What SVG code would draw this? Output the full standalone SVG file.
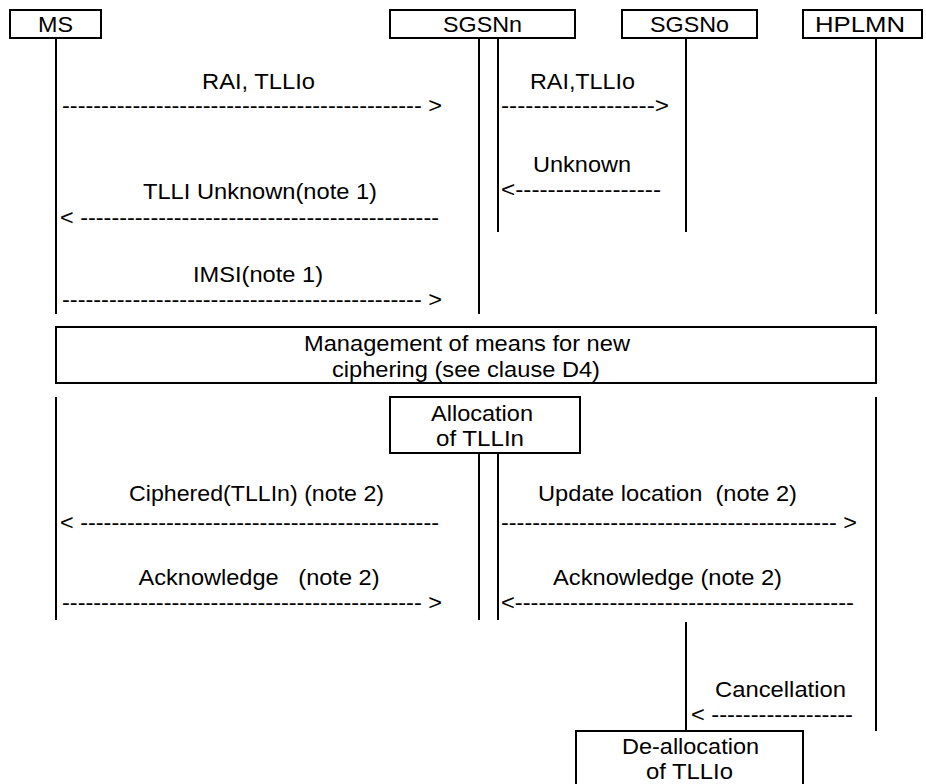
<svg xmlns="http://www.w3.org/2000/svg" width="926" height="784" viewBox="0 0 926 784">
<style>
.t{font-family:"Liberation Sans",Arial,Helvetica,sans-serif;font-size:22px;fill:#000;white-space:pre}
.box{fill:#fff;stroke:#000;stroke-width:2}
.life{stroke:#000;stroke-width:2;fill:none}
</style>
<rect width="926" height="784" fill="#fff"/>
<g id="lifelines">
<path class="life" d="M56,38V314M56,397V620"/>
<path class="life" d="M479,38V314M498,38V232M479,453V620M498,453V620"/>
<path class="life" d="M686,38V232M686,622V731"/>
<path class="life" d="M876,38V314M876,397V731"/>
</g>
<g id="MS"><rect class="box" x="10" y="10" width="91" height="28"/><text class="t" x="38" y="32" textLength="35" lengthAdjust="spacingAndGlyphs">MS</text></g>
<g id="SGSNn"><rect class="box" x="390" y="10" width="185" height="28"/><text class="t" x="443" y="32" textLength="79" lengthAdjust="spacingAndGlyphs">SGSNn</text></g>
<g id="SGSNo"><rect class="box" x="622" y="10" width="135" height="28"/><text class="t" x="650" y="32" textLength="79" lengthAdjust="spacingAndGlyphs">SGSNo</text></g>
<g id="HPLMN"><rect class="box" x="803" y="10" width="119" height="28"/><text class="t" x="815" y="32" textLength="90" lengthAdjust="spacingAndGlyphs">HPLMN</text></g>
<g id="management"><rect class="box" x="56" y="327" width="820" height="56"/>
<text class="t" x="304" y="351" textLength="326" lengthAdjust="spacingAndGlyphs">Management of means for new</text>
<text class="t" x="332" y="377" textLength="268" lengthAdjust="spacingAndGlyphs">ciphering (see clause D4)</text></g>
<g id="allocation"><rect class="box" x="390" y="397" width="190" height="56"/>
<text class="t" x="431" y="421" textLength="102" lengthAdjust="spacingAndGlyphs">Allocation</text>
<text class="t" x="436" y="446" textLength="88" lengthAdjust="spacingAndGlyphs">of TLLIn</text></g>
<g id="deallocation"><rect class="box" x="576" y="731" width="227" height="70"/>
<text class="t" x="622" y="754" textLength="137" lengthAdjust="spacingAndGlyphs">De-allocation</text>
<text class="t" x="646" y="779" textLength="87" lengthAdjust="spacingAndGlyphs">of TLLIo</text></g>
<g id="connectors">
<text class="t" x="202" y="89" textLength="113" lengthAdjust="spacingAndGlyphs">RAI, TLLIo</text>
<text class="t" x="62" y="113" textLength="380" lengthAdjust="spacingAndGlyphs">---------------------------------------------- &gt;</text>
<text class="t" x="530" y="89" textLength="105" lengthAdjust="spacingAndGlyphs">RAI,TLLIo</text>
<text class="t" x="501" y="113" textLength="168" lengthAdjust="spacingAndGlyphs">-------------------&gt;</text>
<text class="t" x="533" y="172" textLength="98" lengthAdjust="spacingAndGlyphs">Unknown</text>
<text class="t" x="501" y="197" textLength="160" lengthAdjust="spacingAndGlyphs">&lt;------------------</text>
<text class="t" x="143" y="199" textLength="234" lengthAdjust="spacingAndGlyphs">TLLI Unknown(note 1)</text>
<text class="t" x="60" y="225" textLength="379" lengthAdjust="spacingAndGlyphs">&lt; ----------------------------------------------</text>
<text class="t" x="193" y="282" textLength="130" lengthAdjust="spacingAndGlyphs">IMSI(note 1)</text>
<text class="t" x="62" y="307" textLength="380" lengthAdjust="spacingAndGlyphs">---------------------------------------------- &gt;</text>
<text class="t" x="129" y="501" textLength="255" lengthAdjust="spacingAndGlyphs">Ciphered(TLLIn) (note 2)</text>
<text class="t" x="60" y="530" textLength="379" lengthAdjust="spacingAndGlyphs">&lt; ----------------------------------------------</text>
<text class="t" x="538" y="501" textLength="259" lengthAdjust="spacingAndGlyphs" xml:space="preserve">Update location  (note 2)</text>
<text class="t" x="501" y="530" textLength="356" lengthAdjust="spacingAndGlyphs">------------------------------------------- &gt;</text>
<text class="t" x="138.5" y="585" textLength="241" lengthAdjust="spacingAndGlyphs" xml:space="preserve">Acknowledge   (note 2)</text>
<text class="t" x="62" y="610" textLength="380" lengthAdjust="spacingAndGlyphs">---------------------------------------------- &gt;</text>
<text class="t" x="553" y="585" textLength="229" lengthAdjust="spacingAndGlyphs">Acknowledge (note 2)</text>
<text class="t" x="501" y="610" textLength="353" lengthAdjust="spacingAndGlyphs">&lt;-------------------------------------------</text>
<text class="t" x="715" y="697" textLength="131" lengthAdjust="spacingAndGlyphs">Cancellation</text>
<text class="t" x="691" y="722" textLength="162" lengthAdjust="spacingAndGlyphs">&lt; ------------------</text>
</g>
</svg>
